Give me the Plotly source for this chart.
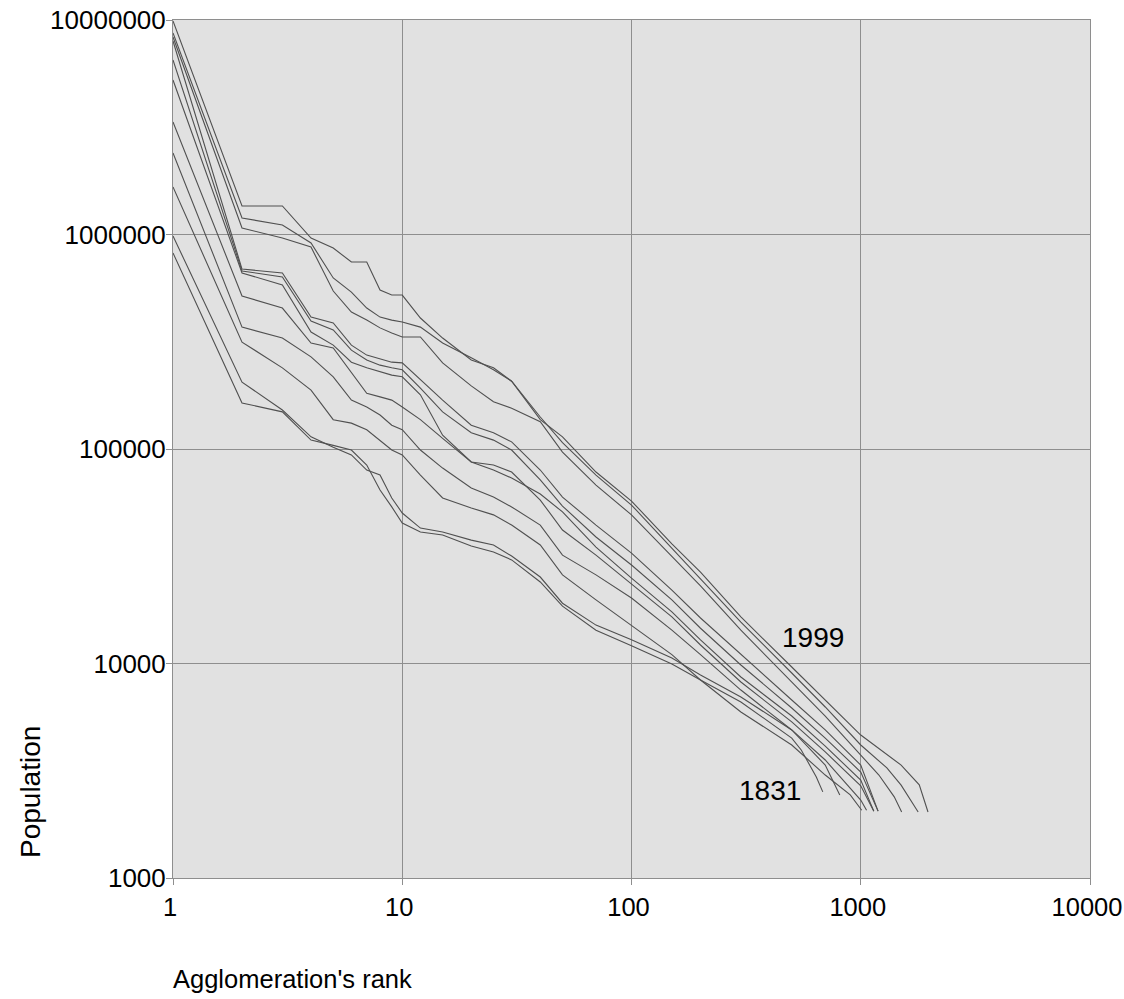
import math
import plotly.graph_objects as go

# ---- Data (rank, population) ----
RANK_1999 = [1,2,3,4,5,6,7,8,9,10,12,15,20,25,30,40,50,70,100,150,200,300,500,700,1000,1500,1800,1965]
POP_1999 = [9900000,1358000,1358000,963000,865000,744000,744000,551000,522000,522000,408000,329000,260000,239000,207000,137000,114000,78100,57200,36100,26700,16500,9630,6760,4640,3360,2720,2030]

RANK_B = [1,2,3,4,5,6,7,8,9,10,12,15,20,25,30,40,50,70,100,150,200,300,500,700,1000,1300,1500,1700,1780]
POP_B = [8700000,1194000,1107000,913000,627000,539000,454000,412000,399000,391000,370000,312000,266000,234000,207000,141000,107000,75600,54800,34600,25000,15600,9030,6270,4170,3260,2710,2190,2030]

RANK_C = [1,2,3,4,5,6,7,8,9,10,12,15,20,25,30,40,50,70,100,150,200,300,500,700,1000,1200,1400,1508]
POP_C = [8330000,1072000,963000,874000,545000,435000,399000,367000,347000,333000,333000,252000,197000,166000,155000,134000,96800,67900,49300,31700,23000,14300,8200,5690,3740,3020,2390,2030]

RANK_D = [1,2,3,4,5,6,7,8,9,10,12,15,20,25,30,40,50,70,100,150,200,300,500,700,1000,1190]
POP_D = [7980000,690000,662000,412000,387000,305000,274000,263000,254000,252000,210000,169000,129000,119000,108000,79800,59700,44200,32700,22000,16300,11000,6760,4900,3360,2050]

RANK_E = [1,2,3,4,5,6,7,8,9,10,12,15,20,25,30,40,50,70,100,150,200,300,500,700,1000,1190]
POP_E = [6510000,676000,634000,395000,359000,289000,260000,246000,239000,234000,192000,149000,119000,110000,98900,71700,54200,38900,28800,19800,14600,9840,6200,4490,3120,2050]

RANK_F = [1,2,3,4,5,6,7,8,9,10,12,15,20,25,30,40,50,70,100,150,200,300,500,700,1000,1140]
POP_F = [5250000,662000,582000,351000,305000,254000,239000,229000,221000,217000,179000,116000,87000,79800,73200,61700,50900,34900,25000,17400,12900,8650,5690,4120,2860,2050]

RANK_G = [1,2,3,4,5,6,7,8,9,10,12,15,20,25,30,40,50,70,100,150,200,300,500,700,1000,1140]
POP_G = [3345000,517000,454000,312000,296000,226000,182000,175000,169000,157000,137000,112000,87000,84200,78100,57800,41900,32000,23500,16500,12200,8200,5340,3870,2690,2050]

RANK_H = [1,2,3,4,5,6,7,8,9,10,12,15,20,25,30,40,50,70,100,150,200,300,500,700,1000,1060]
POP_H = [2400000,370000,329000,269000,217000,169000,157000,144000,129000,123000,98900,81500,65800,59700,53700,44200,32000,25900,20200,14300,11000,7520,4900,3550,2310,2070]

RANK_I = [1,2,3,4,5,6,7,8,9,10,12,15,20,25,30,40,50,70,100,150,200,300,500,700,900,1010]
POP_I = [1665000,315000,239000,188000,137000,132000,123000,110000,98900,93800,75600,59100,53100,49300,44200,35700,25900,19800,15100,11000,8380,5940,4170,3020,2440,2070]

RANK_J = [1,2,3,4,5,6,7,8,9,10,12,15,20,25,30,40,50,70,100,150,200,300,500,700,810]
POP_J = [984000,205000,152000,114000,102000,93800,79800,75600,59100,50300,42800,41000,37600,35700,31700,25300,19100,15100,12900,10600,8840,6980,4900,3360,2440]

RANK_1831 = [1,2,3,4,5,6,7,8,9,10,12,15,20,25,30,40,50,70,100,150,200,300,500,550,640,683]
POP_1831 = [820000,164000,149000,110000,104000,98900,84200,64400,53700,45200,41000,39700,35300,33100,30400,24000,18500,14300,12100,9940,8380,6620,4490,3950,2960,2520]

SERIES = [
    (RANK_1999, POP_1999), (RANK_B, POP_B), (RANK_C, POP_C), (RANK_D, POP_D),
    (RANK_E, POP_E), (RANK_F, POP_F), (RANK_G, POP_G), (RANK_H, POP_H),
    (RANK_I, POP_I), (RANK_J, POP_J), (RANK_1831, POP_1831),
]

X_TICKS = [1, 10, 100, 1000, 10000]
X_TICKTEXT = ["1", "10", "100", "1000", "10000"]
Y_TICKS = [1000, 10000, 100000, 1000000, 10000000]
Y_TICKTEXT = ["1000", "10000", "100000", "1000000", "10000000"]

LABELS = [("1999", 619, 13150), ("1831", 402, 2550)]

FONT = "Liberation Sans, Arial, sans-serif"
LINE_COLOR = "#505050"
GRID_COLOR = "#8e8e8e"

fig = go.Figure()
for rx, py in SERIES:
    fig.add_trace(go.Scatter(x=rx, y=py, mode="lines",
                             line=dict(color=LINE_COLOR, width=1.1),
                             showlegend=False, hoverinfo="skip"))

for txt, xv, yv in LABELS:
    fig.add_annotation(x=math.log10(xv), y=math.log10(yv), text=txt, showarrow=False,
                       xref="x", yref="y", font=dict(family=FONT, size=28, color="black"))

# plot area: 917 x 858 px
fig.add_annotation(text="Population", xref="paper", yref="paper",
                   x=(30 - 173) / 917, y=(878 - 792) / 858, textangle=-90,
                   showarrow=False, xanchor="center", yanchor="middle",
                   font=dict(family=FONT, size=28, color="black"))
fig.add_annotation(text="Agglomeration's rank", xref="paper", yref="paper",
                   x=(171 - 173) / 917, y=(878 - 979) / 858,
                   showarrow=False, xanchor="left", yanchor="middle",
                   font=dict(family=FONT, size=25.5, color="black"))

axis_common = dict(showgrid=True, gridcolor=GRID_COLOR, gridwidth=1,
                   showline=True, linecolor=GRID_COLOR, linewidth=1, mirror=True,
                   ticks="outside", ticklen=6, tickcolor=GRID_COLOR,
                   ticklabeloverflow="allow", zeroline=False, automargin=False)

fig.update_xaxes(type="log", range=[0, 4], tickvals=X_TICKS, ticktext=X_TICKTEXT,
                 tickfont=dict(family=FONT, size=25.5, color="black"),
                 ticklabelshift=-3, **axis_common)
fig.update_yaxes(type="log", range=[3, 7], tickvals=Y_TICKS, ticktext=Y_TICKTEXT,
                 tickfont=dict(family=FONT, size=26, color="black"),
                 ticklabelstandoff=-5, **axis_common)

fig.update_layout(width=1124, height=999,
                  margin=dict(l=173, r=34, t=20, b=121),
                  plot_bgcolor="#e1e1e1", paper_bgcolor="white",
                  font=dict(family=FONT, color="black"))

# remove the default 8 px page margin so the figure fills the window exactly
fig.write_html("out.html", config={"displayModeBar": False},
               post_script="document.body.style.margin='0';document.body.style.overflow='hidden';")
